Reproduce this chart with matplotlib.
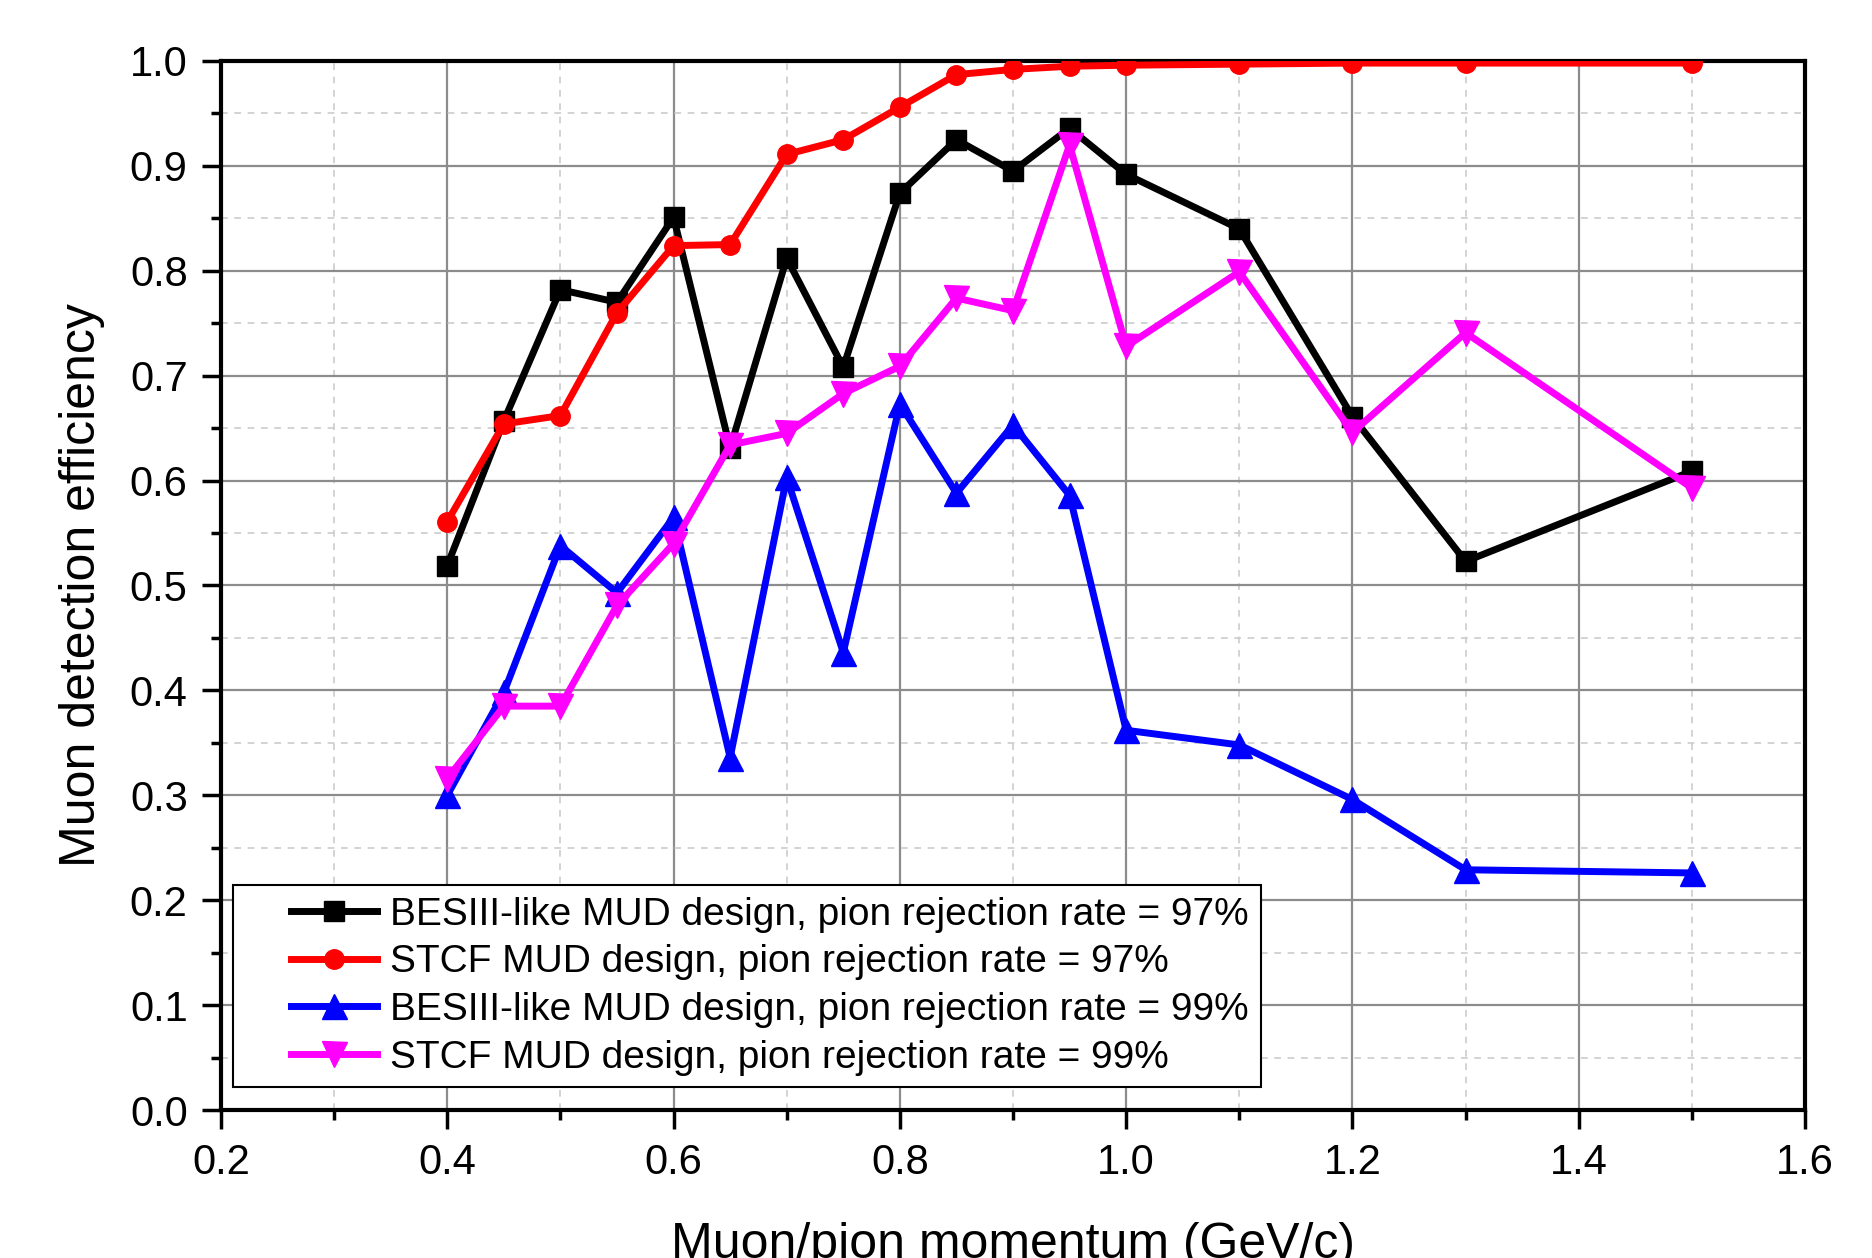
import matplotlib
matplotlib.use("Agg")
import matplotlib.pyplot as plt
from matplotlib.ticker import MultipleLocator
from matplotlib.legend_handler import HandlerLine2D

plt.rcParams['font.family'] = ['Liberation Sans', 'DejaVu Sans']

momentum = [0.4, 0.45, 0.5, 0.55, 0.6, 0.65, 0.7, 0.75, 0.8, 0.85, 0.9, 0.95, 1.0, 1.1, 1.2, 1.3, 1.5]

besiii_97 = [0.519, 0.657, 0.782, 0.770, 0.851, 0.631, 0.812, 0.708, 0.874, 0.925,
             0.895, 0.936, 0.892, 0.840, 0.661, 0.523, 0.609]
stcf_97 = [0.561, 0.654, 0.662, 0.760, 0.824, 0.825, 0.911, 0.925, 0.956, 0.987,
           0.992, 0.995, 0.996, 0.997, 0.998, 0.998, 0.998]
besiii_99 = [0.300, 0.398, 0.538, 0.493, 0.565, 0.336, 0.603, 0.436, 0.673, 0.588,
             0.653, 0.586, 0.362, 0.348, 0.296, 0.229, 0.226]
stcf_99 = [0.316, 0.385, 0.385, 0.481, 0.540, 0.634, 0.645, 0.683, 0.709, 0.774,
           0.762, 0.920, 0.728, 0.799, 0.646, 0.741, 0.593]

labels = ["BESIII-like MUD design, pion rejection rate = 97%",
          "STCF MUD design, pion rejection rate = 97%",
          "BESIII-like MUD design, pion rejection rate = 99%",
          "STCF MUD design, pion rejection rate = 99%"]

fig = plt.figure(figsize=(18.72, 12.58), dpi=100)
ax = fig.add_axes([221 / 1872, 1 - 1110 / 1258, (1805 - 221) / 1872, (1110 - 61) / 1258])

ax.plot(momentum, besiii_97, color='black', marker='s', ms=14, lw=5, label=labels[0], zorder=3)
ax.plot(momentum, stcf_97, color='red', marker='o', ms=14, lw=5, label=labels[1], zorder=3)
ax.plot(momentum, besiii_99, color='blue', marker='^', ms=18, lw=5, label=labels[2], zorder=3)
ax.plot(momentum, stcf_99, color='magenta', marker='v', ms=18, lw=5, label=labels[3], zorder=3)

ax.set_xlim(0.2, 1.6)
ax.set_ylim(0.0, 1.0)
ax.xaxis.set_major_locator(MultipleLocator(0.2))
ax.xaxis.set_minor_locator(MultipleLocator(0.1))
ax.yaxis.set_major_locator(MultipleLocator(0.1))
ax.yaxis.set_minor_locator(MultipleLocator(0.05))
ax.xaxis.set_major_formatter(plt.FormatStrFormatter('%.1f'))
ax.yaxis.set_major_formatter(plt.FormatStrFormatter('%.1f'))

ax.grid(which='major', color='#8c8c8c', lw=1.6, ls='-')
ax.grid(which='minor', color='#cccccc', lw=1.2, ls=(0, (4, 4)))
ax.set_axisbelow(True)

ax.tick_params(which='major', direction='out', length=14, width=2.5, labelsize=30, pad=10)
ax.tick_params(which='minor', direction='out', length=7, width=2.5)
for s in ax.spines.values():
    s.set_linewidth(3)

ax.set_xlabel('Muon/pion momentum (GeV/c)', fontsize=36, labelpad=28)
ax.set_ylabel('Muon detection efficiency', fontsize=36, labelpad=18)

leg = ax.legend(loc='lower left', bbox_to_anchor=(0.0075, 0.0216), fontsize=28, frameon=True,
                fancybox=False, framealpha=1, edgecolor='black', handlelength=3.4,
                borderpad=0.3, labelspacing=0.3, handletextpad=0.35, borderaxespad=0,
                handler_map={plt.Line2D: HandlerLine2D(xpad=1.2)})
leg.get_frame().set_linewidth(1.5)

fig.savefig('out.png', dpi=100)
